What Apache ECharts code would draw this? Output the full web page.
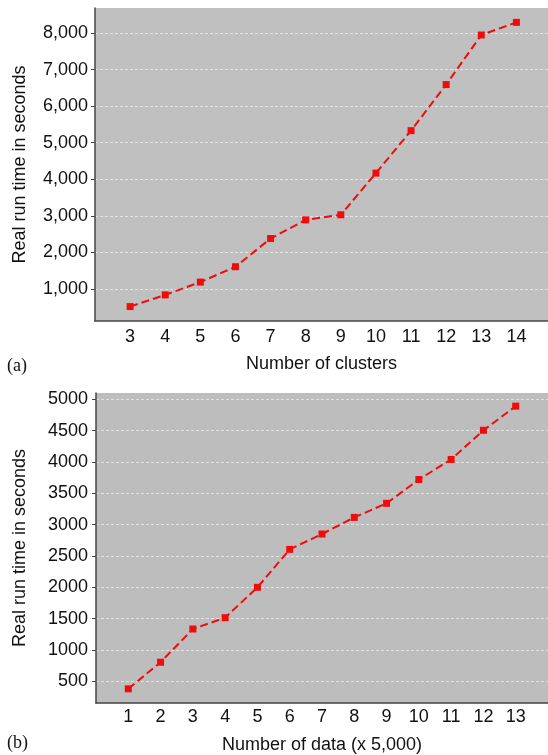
<!DOCTYPE html>
<html>
<head>
<meta charset="utf-8">
<script src="https://cdn.jsdelivr.net/npm/echarts@6/dist/echarts.min.js"></script>
<style>
  html, body { margin: 0; padding: 0; background: #fff; }
  #chart { width: 548px; height: 755px; }
</style>
</head>
<body>
<div id="chart"></div>
<script>
// (a) run time vs number of clusters
const clusters = [3, 4, 5, 6, 7, 8, 9, 10, 11, 12, 13, 14];
const clusterTimes = [520, 840, 1190, 1610, 2380, 2890, 3030, 4170, 5330, 6590, 7945, 8290];
const ticksA = [1000, 2000, 3000, 4000, 5000, 6000, 7000, 8000];

// (b) run time vs number of data (x 5,000)
const dataSizes = [1, 2, 3, 4, 5, 6, 7, 8, 9, 10, 11, 12, 13];
const dataTimes = [380, 805, 1335, 1515, 2000, 2605, 2850, 3115, 3340, 3720, 4040, 4505, 4890];
const ticksB = [500, 1000, 1500, 2000, 2500, 3000, 3500, 4000, 4500, 5000];

const chart = echarts.init(document.getElementById('chart'));

const font = 'Liberation Sans, Arial, sans-serif';
const axisColor = '#444';
const lineRed = '#f00c0c';

function xAxisOf(gridIndex, min, max, ticks, name, margin, nameGap) {
  return {
    type: 'value', gridIndex, min, max,
    axisLine: { show: true, lineStyle: { color: axisColor, width: 1.5 } },
    axisTick: { show: false, customValues: ticks },
    axisLabel: { customValues: ticks, color: '#111', fontSize: 18, fontFamily: font, margin },
    splitLine: { show: false },
    name, nameLocation: 'middle', nameGap,
    nameTextStyle: { color: '#111', fontSize: 18, fontFamily: font }
  };
}

function yAxisOf(gridIndex, min, max, ticks, fmt, margin, nameGap) {
  return {
    type: 'value', gridIndex, min, max,
    axisLine: { show: true, lineStyle: { color: axisColor, width: 1.5 } },
    axisTick: { show: true, length: 4, customValues: ticks, lineStyle: { color: axisColor } },
    axisLabel: { customValues: ticks, color: '#111', fontSize: 18, fontFamily: font, margin, formatter: fmt },
    splitLine: { show: true, lineStyle: { color: 'rgba(255,255,255,0.55)', type: [3, 2], width: 1 } },
    name: 'Real run time in seconds', nameLocation: 'middle', nameGap,
    nameTextStyle: { color: '#111', fontSize: 18, fontFamily: font }
  };
}

function lineOf(xi, xs, ys) {
  return {
    type: 'line', xAxisIndex: xi, yAxisIndex: xi,
    data: xs.map((x, i) => [x, ys[i]]),
    symbol: 'rect', symbolSize: 7,
    itemStyle: { color: lineRed },
    lineStyle: { color: lineRed, width: 2, type: [8, 4] },
    animation: false
  };
}

const option = {
  backgroundColor: '#fff',
  grid: [
    { left: 95, top: 8, right: 0, height: 313, show: true, backgroundColor: '#c0c0c0', borderWidth: 0 },
    { left: 96, top: 393, right: 0, height: 310, show: true, backgroundColor: '#bdbdbd', borderWidth: 0 }
  ],
  xAxis: [
    xAxisOf(0, 2, 14.9, clusters, 'Number of clusters', 7, 34),
    xAxisOf(1, 0, 14, dataSizes, 'Number of data (x 5,000)', 5, 33)
  ],
  yAxis: [
    yAxisOf(0, 126, 8683, ticksA, v => v.toLocaleString('en-US'), 7, 66),
    yAxisOf(1, 154, 5100, ticksB, v => String(v), 8, 67)
  ],
  graphic: [
    { type: 'text', left: 7, top: 357, style: { text: '(a)', font: '18px Liberation Serif, serif', fill: '#111' } },
    { type: 'text', left: 7, top: 734, style: { text: '(b)', font: '18px Liberation Serif, serif', fill: '#111' } }
  ],
  series: [
    lineOf(0, clusters, clusterTimes),
    lineOf(1, dataSizes, dataTimes)
  ]
};

chart.setOption(option);
</script>
</body>
</html>
